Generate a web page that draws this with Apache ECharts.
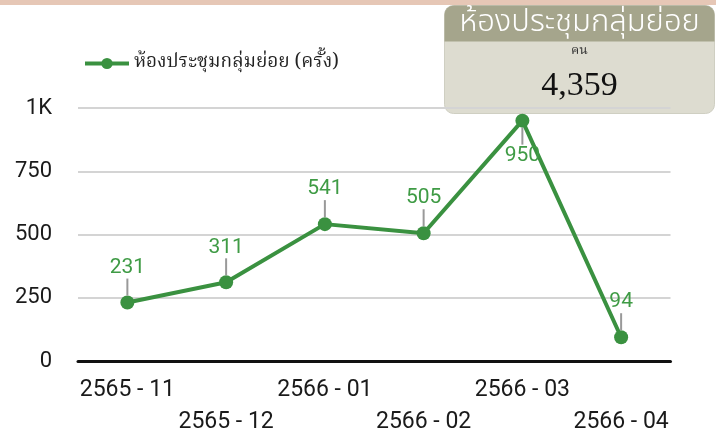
<!DOCTYPE html>
<html>
<head>
<meta charset="utf-8">
<script src="https://cdn.jsdelivr.net/npm/echarts@6/dist/echarts.min.js"></script>
<style>
  html, body { margin: 0; padding: 0; background: #fff; }
  #chart { width: 716px; height: 438px; }
</style>
</head>
<body>
<div id="chart"></div>
<script>
// ข้อมูล
const months = ['2565 - 11', '2565 - 12', '2566 - 01', '2566 - 02', '2566 - 03', '2566 - 04']
const counts = [231, 311, 541, 505, 950, 94]
const seriesName = 'ห้องประชุมกลุ่มย่อย (ครั้ง)'
const cardTitle = 'ห้องประชุมกลุ่มย่อย'
const cardUnit = 'คน'
const cardValue = '4,359'
const yTicks = { min: 0, max: 1000, interval: 250 }

const green = '#3a9140'
const thaiSans = '"Noto Sans Thai", "Noto Sans Thai UI", Kanit, Prompt, Sarabun, Waree, Loma, sans-serif'
const thaiSerif = '"Noto Serif Thai", Norasi, Kinnari, "Liberation Serif", serif'
const chart = echarts.init(document.getElementById('chart'))

// จุดสูงสุดชิดกล่องด้านบน ป้ายจึงอยู่ด้านล่าง
const seriesData = counts.map((v) => {
  if (v === Math.max(...counts)) {
    return {
      value: v,
      label: { position: 'bottom', formatter: '{l|}\n{v|{c}}' },
    }
  }
  return v
})

const option = {
  animation: false,
  backgroundColor: '#fff',
  textStyle: { fontFamily: 'Roboto, sans-serif' },
  graphic: [
    { type: 'rect', left: 0, top: 0, shape: { width: 716, height: 5 }, style: { fill: '#e6c7b6' } },
    {
      type: 'group', left: 444, top: 5,
      children: [
        { type: 'rect', shape: { x: 0, y: 0, width: 270, height: 108, r: 9 }, style: { fill: '#dddcd0', stroke: '#cfcfc2' } },
        { type: 'rect', shape: { x: 0, y: 0, width: 270, height: 36, r: [9, 9, 0, 0] }, style: { fill: '#a5a58c' } },
        { type: 'text', x: 135, y: 19, style: { text: cardTitle, fill: '#fff', font: '300 31px ' + thaiSans, align: 'center', verticalAlign: 'middle' } },
        { type: 'text', x: 135, y: 46, style: { text: cardUnit, fill: '#333', font: '13px ' + thaiSerif, align: 'center', verticalAlign: 'middle' } },
        { type: 'text', x: 135, y: 81, style: { text: cardValue, fill: '#111', font: '34px "Liberation Serif", "DejaVu Serif", serif', align: 'center', verticalAlign: 'middle' } },
      ],
    },
  ],
  legend: {
    left: 78,
    top: 49,
    itemWidth: 44,
    itemHeight: 14,
    itemGap: 9,
    lineStyle: { width: 4 },
    textStyle: { fontSize: 19, color: '#222', fontFamily: thaiSerif },
    data: [seriesName],
  },
  grid: { left: 78, right: 45.5, top: 108, bottom: 74 },
  xAxis: {
    type: 'category',
    data: months,
    axisLine: { lineStyle: { color: '#111', width: 3 } },
    axisTick: { show: false },
    axisLabel: {
      interval: 0,
      color: '#1a1a1a',
      fontSize: 23,
      lineHeight: 32,
      margin: 13,
      formatter: (v, i) => (i % 2 ? '\n' + v : v),
    },
  },
  yAxis: {
    type: 'value',
    min: yTicks.min,
    max: yTicks.max,
    interval: yTicks.interval,
    axisLine: { show: false },
    axisTick: { show: false },
    splitLine: { lineStyle: { color: '#d4d4d4', width: 2 } },
    axisLabel: {
      color: '#1a1a1a',
      fontSize: 22,
      margin: 26,
      formatter: (v) => (v >= 1000 ? v / 1000 + 'K' : v),
    },
  },
  series: [
    {
      name: seriesName,
      type: 'line',
      data: seriesData,
      symbol: 'circle',
      symbolSize: 14,
      lineStyle: { color: green, width: 4 },
      itemStyle: { color: green },
      label: {
        show: true,
        position: 'top',
        distance: 0,
        formatter: '{v|{c}}\n{l|}',
        rich: {
          v: { fontSize: 21, color: '#3f9b45', lineHeight: 22, align: 'center' },
          l: { width: 2, height: 17, backgroundColor: '#999', align: 'center' },
        },
      },
    },
  ],
}

chart.setOption(option)
</script>
</body>
</html>
